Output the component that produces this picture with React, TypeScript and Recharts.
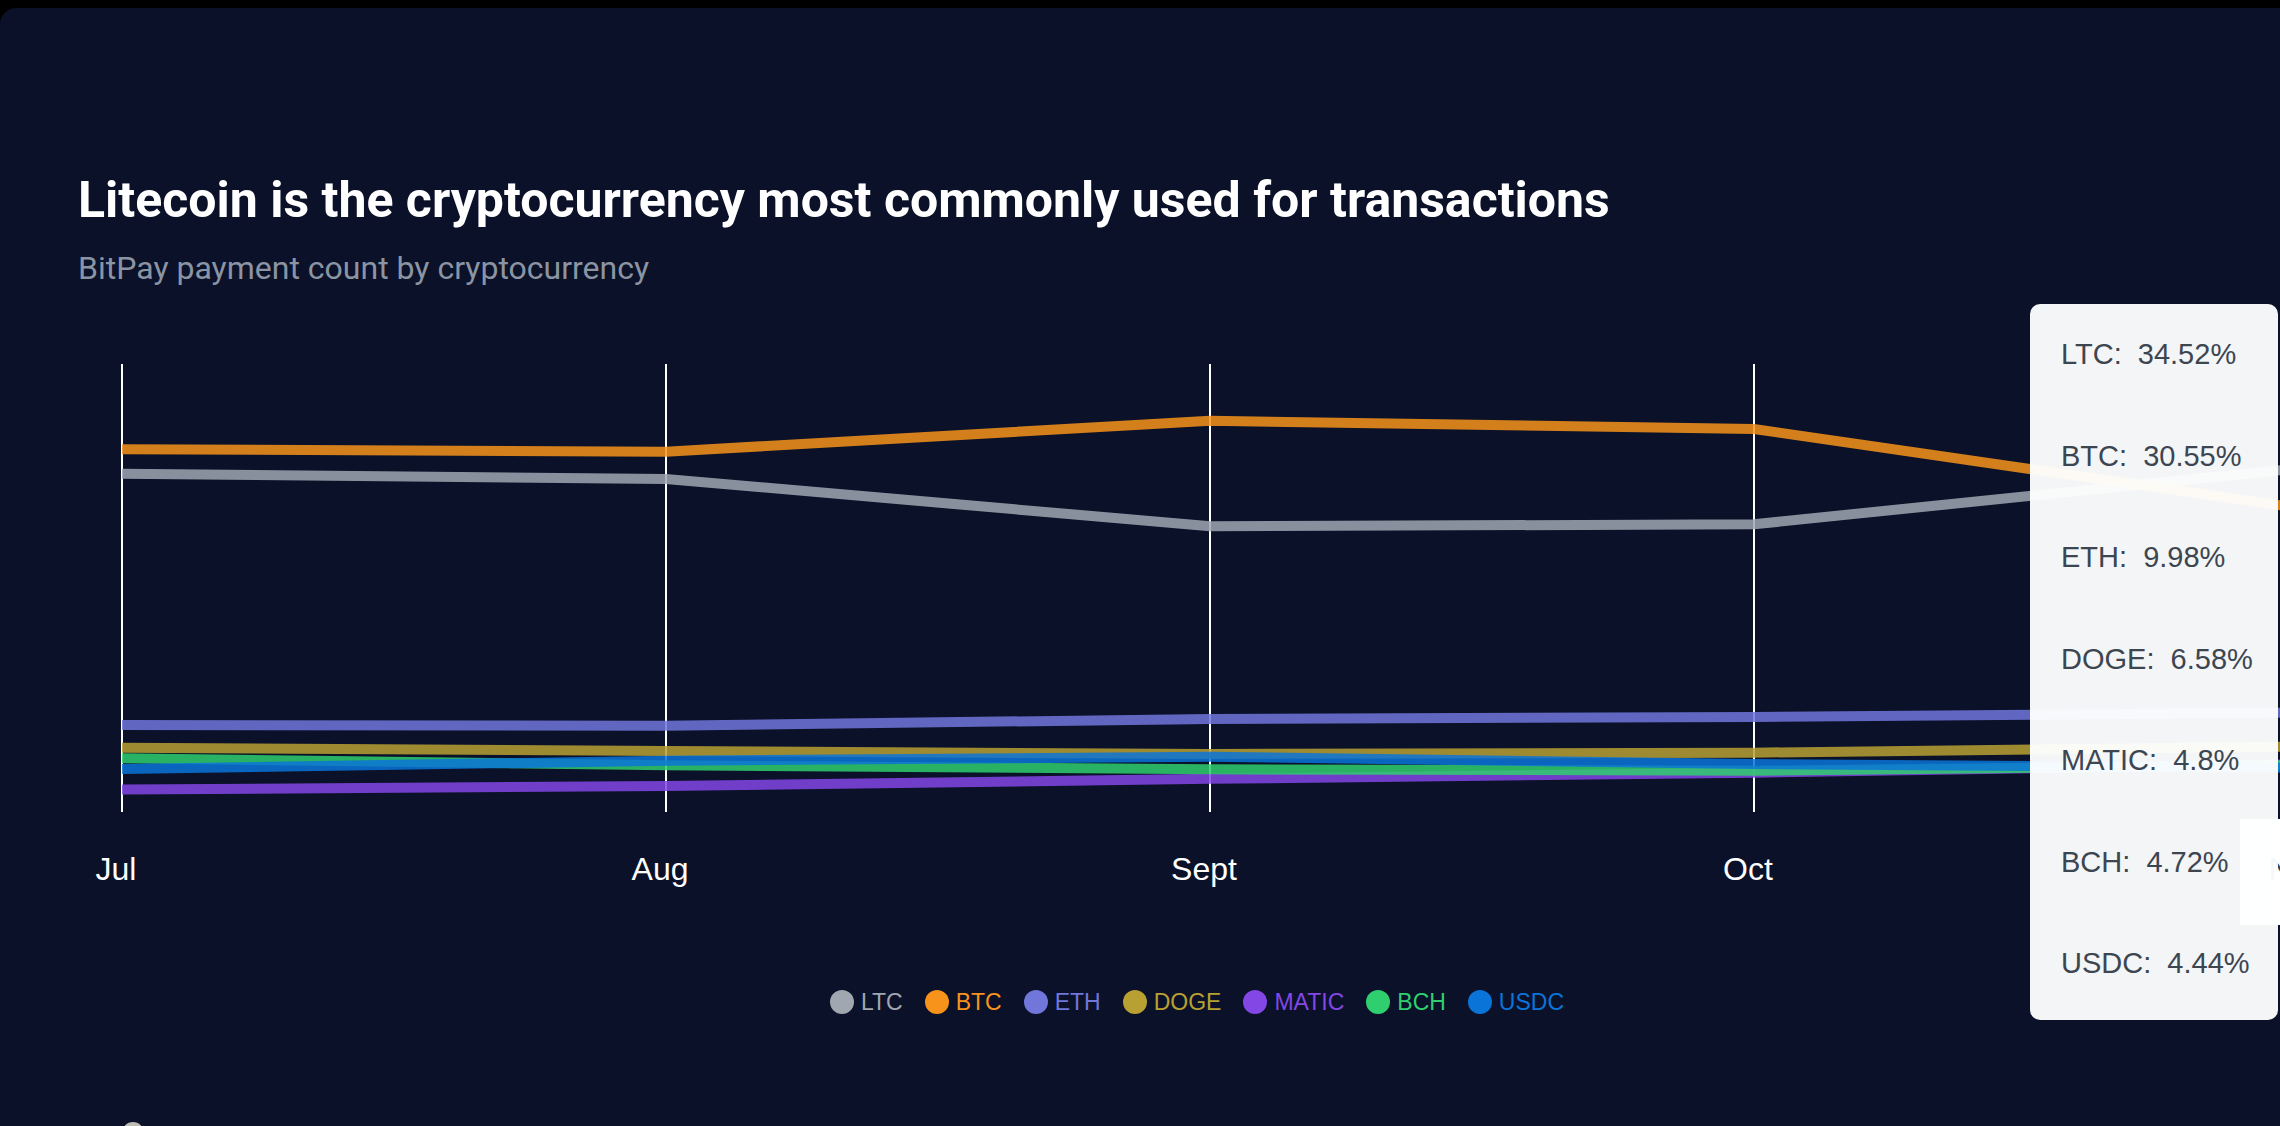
import React from 'react';
import { LineChart, Line, XAxis, YAxis, CartesianGrid, Tooltip, Legend } from 'recharts';

// BitPay payment share (%) by month
const months = ['Jul', 'Aug', 'Sept', 'Oct', 'Nov'];
const ltc = [33.98, 33.45, 28.7, 28.9, 34.52];
const btc = [36.44, 36.19, 39.3, 38.47, 30.55];
const eth = [8.74, 8.67, 9.34, 9.54, 9.98];
const doge = [6.46, 6.13, 5.83, 5.96, 6.58];
const matic = [2.26, 2.61, 3.33, 3.95, 4.8];
const bch = [5.39, 4.7, 4.29, 4.15, 4.72];
const usdc = [4.32, 5.15, 5.55, 4.82, 4.44];

const seriesKeys = ['LTC', 'BTC', 'ETH', 'DOGE', 'MATIC', 'BCH', 'USDC'];
const seriesValues = [ltc, btc, eth, doge, matic, bch, usdc];
const seriesColors: Record<string, string> = {
  LTC: '#a0a7b1',
  BTC: '#f7931a',
  ETH: '#7176db',
  DOGE: '#b9a032',
  MATIC: '#8247e5',
  BCH: '#2fcf6f',
  USDC: '#0a74d8',
};

const activeMonth = 'Nov';

const data = months.map((month, i) => {
  const row: Record<string, string | number> = { month };
  seriesKeys.forEach((key, k) => {
    row[key] = seriesValues[k][i];
  });
  return row;
});

const sans = '"Liberation Sans", Arial, Helvetica, sans-serif';
const display = 'Roboto, "Noto Sans", sans-serif';

const TooltipBox = ({ active, payload }: any) => {
  if (!active || !payload || !payload.length) return null;
  return (
    <div
      style={{
        width: 248,
        height: 716,
        boxSizing: 'border-box',
        background: 'rgba(254,255,255,0.96)',
        borderRadius: 10,
        paddingLeft: 31,
        fontFamily: sans,
        fontSize: 29,
        color: '#3c4651',
      }}
    >
      {seriesKeys.map((key) => {
        const item = payload.find((p: any) => p.dataKey === key);
        if (!item) return null;
        return (
          <div key={key} style={{ height: 101.5, lineHeight: '101.5px', whiteSpace: 'pre' }}>
            {`${key}:  ${item.value}%`}
          </div>
        );
      })}
    </div>
  );
};

const MonthTick = ({ x, y, payload }: any) => {
  const hi = payload.value === activeMonth;
  return (
    <g>
      {hi && <rect x={x - 58} y={y - 38} width={116} height={106} fill="#ffffff" />}
      <text
        x={hi ? x - 1 : x - 6}
        y={y}
        dy={23}
        textAnchor="middle"
        fill={hi ? '#3c4651' : '#ffffff'}
        fontSize={32}
        fontFamily={sans}
      >
        {payload.value}
      </text>
    </g>
  );
};

const LegendRow = () => (
  <div
    style={{
      display: 'flex',
      justifyContent: 'center',
      alignItems: 'center',
      height: 24,
      fontFamily: sans,
      fontSize: 23,
    }}
  >
    {seriesKeys.map((key, i) => (
      <div key={key} style={{ display: 'flex', alignItems: 'center', marginLeft: i ? 22 : 0 }}>
        <span
          style={{
            display: 'inline-block',
            width: 24,
            height: 24,
            borderRadius: 12,
            background: seriesColors[key],
            marginRight: 7,
          }}
        />
        <span style={{ color: seriesColors[key], lineHeight: '24px' }}>{key}</span>
      </div>
    ))}
  </div>
);

export default function App() {
  return (
    <div
      style={{
        position: 'absolute',
        left: 0,
        top: 0,
        width: 2280,
        height: 1126,
        overflow: 'hidden',
        background: '#000',
      }}
    >
      <div
        style={{
          position: 'absolute',
          left: 0,
          top: 8,
          width: 2600,
          height: 1300,
          background: '#0a1128',
          borderTopLeftRadius: 16,
        }}
      />
      <div
        style={{
          position: 'absolute',
          left: 78,
          top: 175,
          fontFamily: display,
          fontWeight: 700,
          fontSize: 50,
          lineHeight: 1,
          color: '#ffffff',
          whiteSpace: 'nowrap',
        }}
      >
        Litecoin is the cryptocurrency most commonly used for transactions
      </div>
      <div
        style={{
          position: 'absolute',
          left: 78,
          top: 252,
          fontFamily: display,
          fontWeight: 400,
          fontSize: 32,
          lineHeight: 1,
          color: '#8b94a3',
          whiteSpace: 'nowrap',
        }}
      >
        BitPay payment count by cryptocurrency
      </div>
      <div style={{ position: 'absolute', left: 0, top: 0 }}>
        <LineChart
          width={2420}
          height={1126}
          data={data}
          margin={{ top: 364, right: 122, bottom: 254, left: 122 }}
        >
          <CartesianGrid horizontal={false} stroke="#ffffff" strokeWidth={2} />
          <XAxis
            dataKey="month"
            axisLine={false}
            tickLine={false}
            tickSize={0}
            tickMargin={45}
            height={60}
            interval={0}
            tick={<MonthTick />}
          />
          <YAxis hide domain={[0, 45]} />
          <Tooltip
            content={<TooltipBox />}
            active
            defaultIndex={4}
            position={{ x: 2030, y: 304 }}
            cursor={false}
            isAnimationActive={false}
          />
          <Legend
            verticalAlign="middle"
            layout="horizontal"
            content={<LegendRow />}
            wrapperStyle={{ left: 0, top: 990, width: 2394, height: 24 }}
          />
          {seriesKeys.map((key) => (
            <Line
              key={key}
              type="linear"
              dataKey={key}
              name={key}
              stroke={seriesColors[key]}
              strokeOpacity={0.85}
              strokeWidth={10}
              dot={false}
              activeDot={false}
              isAnimationActive={false}
            />
          ))}
        </LineChart>
      </div>
      <div
        style={{
          position: 'absolute',
          left: 122,
          top: 1122,
          width: 22,
          height: 22,
          borderRadius: 11,
          background: '#bdbdb6',
        }}
      />
    </div>
  );
}
